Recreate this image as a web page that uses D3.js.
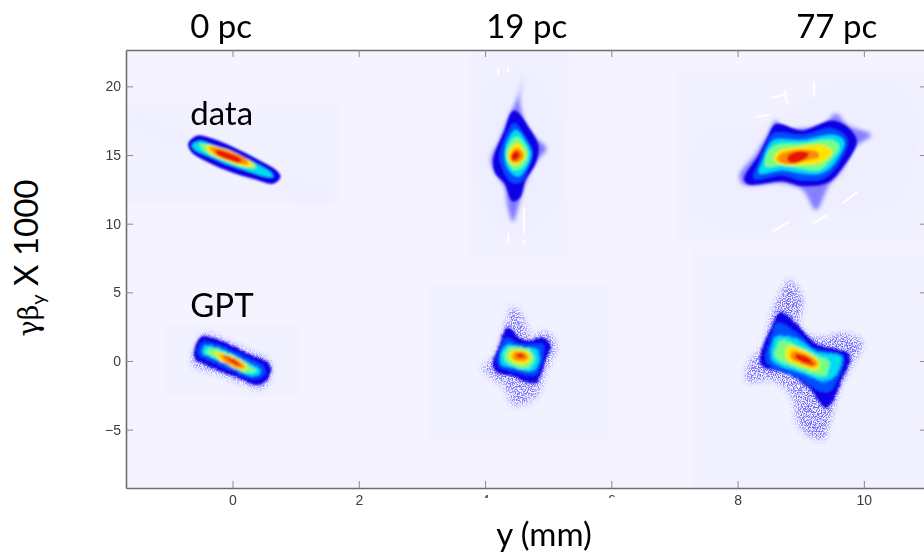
<!DOCTYPE html>
<html>
<head>
<meta charset="utf-8">
<style>
  html, body { margin: 0; padding: 0; background: #fff; }
  svg { display: block; }
  .tick text { font-family: "Liberation Sans", sans-serif; font-size: 14px; fill: #3c3c3c; }
  .big { font-family: Lato, "Open Sans", sans-serif; font-size: 33px; fill: #000; }
</style>
</head>
<body>
<svg id="chart" width="924" height="555"></svg>
<script src="https://cdn.jsdelivr.net/npm/d3@7"></script>
<script>
// axes (y in mm, gamma beta_y x 1000)
const xDomain = [-1.687, 11];
const yDomain = [-9.25, 22.65];
const xTicks = [0, 2, 4, 6, 8, 10];
const yTicks = [-5, 0, 5, 10, 15, 20];
const columnLabels = [["0 pc", -0.18], ["19 pc", 4.66], ["77 pc", 9.57]];
const rowLabels = [["data", -0.67, 17.19], ["GPT", -0.67, 3.2]];

// faint rectangles behind each image: x0, x1, y0, y1
const patches = [
  [-1.67, 1.68, 11.4, 18.8],
  [3.73, 5.3, 7.6, 22.6],
  [7.04, 11, 8.8, 21.2],
  [-1.09, 1.1, -2.6, 2.6],
  [3.07, 5.96, -5.8, 5.6],
  [7.3, 11, -9.25, 8.1]
];

// contours, outside to inside: halo, fringe, dark, blue, cyan, green, yellow, orange, red
const data0 = [
  [[-1.65,18.03],[-1.05,17.18],[-0.52,16.09],[0.79,13.67],[1.64,12.21],[1.27,11.48],[0.53,12.69],[-0.73,15.36],[-1.63,17.3]],
  null,
  [[-0.68,15.85],[-0.55,16.33],[-0.36,16.17],[0.01,15.49],[0.43,14.51],[0.69,13.79],[0.74,13.42],[0.64,12.99],[0.37,13.3],[0.01,13.79],[-0.36,14.51],[-0.63,15.24]],
  null,
  [[-0.64,15.73],[-0.52,16.02],[-0.31,15.73],[0.01,15.12],[0.37,14.39],[0.61,13.71],[0.64,13.42],[0.53,13.42],[0.27,13.79],[-0.05,14.27],[-0.36,14.88],[-0.6,15.41]],
  [[-0.52,15.8],[-0.31,15.66],[0.01,15.12],[0.32,14.44],[0.37,14.03],[0.11,14.2],[-0.21,14.76],[-0.47,15.36]],
  [[-0.42,15.66],[-0.15,15.49],[0.16,14.88],[0.35,14.27],[0.22,14.15],[-0.1,14.59],[-0.36,15.12]],
  [[-0.36,15.56],[-0.1,15.32],[0.22,14.68],[0.24,14.34],[0.01,14.51],[-0.26,15]],
  [[-0.26,15.36],[-0.07,15.17],[0.14,14.68],[0.11,14.44],[-0.07,14.68],[-0.26,15.12]]
];
const data19 = [
  [[3.91,18.76],[4.33,21.43],[4.91,20.22],[5.18,16.09],[5.12,11.24],[4.44,9.05],[3.91,11.97]],
  [[4.6,20.58],[4.55,19],[4.62,17.55],[4.78,16.33],[4.97,15.49],[4.81,14.51],[4.68,13.42],[4.57,11.97],[4.44,10.15],[4.36,11.24],[4.31,12.69],[4.17,13.67],[4.09,14.64],[4.23,16.09],[4.39,17.91],[4.52,19.25]],
  [[4.46,18.16],[4.68,16.94],[4.83,15.61],[4.78,14.39],[4.62,13.18],[4.54,11.97],[4.44,11.72],[4.33,12.94],[4.17,13.79],[4.15,14.76],[4.31,16.58]],
  [[4.46,17.31],[4.62,16.46],[4.75,15.24],[4.68,14.03],[4.57,13.06],[4.41,13.06],[4.28,14.03],[4.23,14.88],[4.33,16.33]],
  [[4.49,16.82],[4.65,15.97],[4.73,15.12],[4.65,14.03],[4.52,13.42],[4.36,14.03],[4.31,15],[4.36,16.09]],
  [[4.5,16.33],[4.65,15.61],[4.68,14.88],[4.6,14.15],[4.46,13.91],[4.36,14.51],[4.34,15.36]],
  [[4.5,15.85],[4.62,15.36],[4.64,14.88],[4.54,14.39],[4.44,14.27],[4.36,14.76],[4.39,15.36]],
  [[4.5,15.49],[4.6,15.17],[4.6,14.76],[4.49,14.44],[4.41,14.64],[4.41,15.07]],
  [[4.49,15.32],[4.55,15.07],[4.53,14.76],[4.44,14.59],[4.41,14.88]]
];
const data77 = [
  [[7.45,16.94],[8.34,17.06],[9.71,20.46],[10.66,19.73],[10.87,16.09],[10.45,11.24],[9.29,10.75],[8.34,9.3],[7.23,11]],
  [[8.61,17.55],[8.69,16.94],[9.03,16.94],[9.35,17.18],[9.56,18.03],[9.74,17.18],[10.11,16.46],[9.87,15.61],[9.64,13.79],[9.45,12.82],[9.24,11],[9.03,12.45],[8.71,12.94],[8.29,12.82],[8.08,12.89],[8.03,13.54],[8.29,15.12],[8.47,16.46]],
  [[8.61,17.18],[9.03,16.7],[9.5,17.43],[9.77,16.82],[9.87,15.97],[9.61,13.91],[9.42,13.06],[9.03,12.82],[8.71,13.18],[8.18,12.94],[8.12,13.3],[8.34,14.88],[8.5,16.33]],
  [[8.58,16.58],[9.03,16.46],[9.5,16.94],[9.74,16.09],[9.56,14.15],[9.35,13.3],[9,13.18],[8.71,13.54],[8.26,13.3],[8.34,14.51],[8.47,15.85]],
  [[8.58,16.09],[9.03,16.09],[9.53,16.46],[9.69,15.97],[9.53,14.39],[9.32,13.67],[9,13.67],[8.71,13.91],[8.34,13.67],[8.4,14.64],[8.47,15.49]],
  [[8.61,15.73],[9.03,15.85],[9.5,16.09],[9.61,15.61],[9.45,14.51],[9.29,13.91],[8.98,14.03],[8.71,14.27],[8.45,14.15],[8.47,15.12]],
  [[8.63,15.24],[8.98,15.61],[9.35,15.73],[9.5,15.24],[9.35,14.51],[9.03,14.27],[8.71,14.27],[8.58,14.64]],
  [[8.66,15],[8.92,15.36],[9.26,15.24],[9.29,14.88],[9.08,14.59],[8.77,14.34],[8.63,14.64]],
  [[8.79,14.88],[8.98,15.29],[9.13,15.12],[9.08,14.76],[8.92,14.39],[8.81,14.51]]
];
const gpt0 = [
  null,
  [[-0.42,2.03],[-0.15,1.55],[0.27,0.7],[0.61,-0.15],[0.48,-1.96],[0.16,-1.6],[-0.26,-0.87],[-0.63,-0.27],[-0.57,1.07]],
  [[-0.47,1.74],[-0.15,1.31],[0.24,0.46],[0.58,-0.34],[0.53,-1.36],[0.37,-1.65],[0.11,-1.16],[-0.26,-0.51],[-0.58,0.22],[-0.57,1.07]],
  [[-0.44,1.36],[-0.15,1.02],[0.22,0.22],[0.51,-0.51],[0.48,-1.11],[0.35,-1.31],[0.08,-0.87],[-0.26,-0.19],[-0.53,0.46],[-0.53,1.02]],
  [[-0.42,1.11],[-0.15,0.82],[0.19,0.02],[0.43,-0.63],[0.42,-0.99],[0.29,-1.07],[0.06,-0.58],[-0.26,0.1],[-0.48,0.63]],
  [[-0.36,0.94],[-0.1,0.58],[0.16,-0.02],[0.37,-0.75],[0.22,-0.87],[0.01,-0.51],[-0.25,0.17],[-0.42,0.58]],
  [[-0.28,0.63],[-0.05,0.41],[0.22,-0.34],[0.19,-0.68],[0.01,-0.44],[-0.2,0.05]],
  [[-0.2,0.46],[0.01,0.22],[0.19,-0.39],[0.11,-0.51],[-0.07,-0.19]],
  [[-0.12,0.34],[0.03,0.1],[0.14,-0.34],[0.01,-0.19]]
];
const gpt19 = [
  null,
  [[4.44,3.96],[4.62,2.99],[4.73,1.77],[4.97,2.14],[5.12,1.17],[4.97,-0.66],[4.78,-2.72],[4.44,-3.2],[4.33,-1.99],[3.96,-0.53],[4.15,0.32],[4.33,2.74]],
  [[4.36,2.38],[4.52,1.65],[4.73,1.41],[4.91,1.65],[5.02,1.04],[4.94,0.07],[4.81,-1.5],[4.7,-1.5],[4.44,-1.02],[4.2,-0.78],[4.14,-0.17],[4.23,0.92]],
  [[4.33,1.65],[4.54,1.29],[4.75,1.17],[4.91,1.17],[4.89,-0.17],[4.78,-1.02],[4.49,-0.78],[4.23,-0.41],[4.2,0.07],[4.25,0.92]],
  [[4.36,1.17],[4.54,1],[4.81,0.85],[4.86,0.07],[4.75,-0.7],[4.49,-0.53],[4.25,-0.17],[4.27,0.8]],
  [[4.41,1],[4.7,0.8],[4.78,0.19],[4.68,-0.53],[4.44,-0.36],[4.31,0.07],[4.32,0.68]],
  [[4.44,0.8],[4.68,0.61],[4.73,0.19],[4.62,-0.22],[4.44,-0.05],[4.37,0.36]],
  [[4.46,0.63],[4.65,0.56],[4.68,0.19],[4.54,0],[4.44,0.19]],
  [[4.5,0.51],[4.62,0.44],[4.61,0.24],[4.52,0.27]]
];
const gpt77 = [
  null,
  [[8.82,5.9],[9.03,4.44],[8.98,2.5],[9.29,1.65],[9.72,2.01],[9.98,1.29],[9.82,-0.17],[9.61,-2.11],[9.45,-4.54],[9.35,-5.75],[8.98,-4.78],[8.87,-2.6],[8.55,-1.38],[8.16,-1.5],[8.18,-0.17],[8.4,1.04],[8.55,3.47],[8.71,5.17]],
  [[8.69,3.47],[8.92,2.62],[9.24,1.17],[9.72,0.56],[9.77,0.19],[9.64,-1.26],[9.5,-2.84],[9.4,-3.33],[9.13,-1.87],[8.82,-0.9],[8.4,-0.29],[8.37,0.19],[8.53,2.26]],
  [[8.63,2.74],[8.87,2.26],[9.21,0.92],[9.66,0.32],[9.61,-1.02],[9.45,-2.23],[9.27,-2.11],[8.98,-1.26],[8.58,-0.53],[8.45,0.07],[8.53,1.65]],
  [[8.61,1.77],[8.92,1.65],[9.24,0.68],[9.64,0.27],[9.56,-1.02],[9.37,-1.5],[9.03,-0.9],[8.61,-0.22],[8.53,0.32],[8.55,1.17]],
  [[8.71,1.53],[8.92,1.17],[9.29,0.32],[9.45,-0.05],[9.4,-1.02],[9.24,-1.02],[8.92,-0.46],[8.61,0.19],[8.61,1.04]],
  [[8.79,1.04],[9.03,0.8],[9.29,-0.05],[9.27,-0.66],[9.03,-0.41],[8.77,0.19]],
  [[8.87,0.68],[9.08,0.51],[9.27,-0.17],[9.21,-0.46],[9,-0.17],[8.84,0.27]],
  [[8.92,0.51],[9.1,0.32],[9.21,-0.29],[9.08,-0.17],[8.92,0.19]]
];

// white saturated streaks in the measured images: x1, y1, x2, y2
const whiteMarks = [
  [4.21,21.3,4.21,20.8],[4.36,21.4,4.36,21],[4.62,11.2,4.62,9.3],[4.37,9.3,4.37,8.6],[4.61,8.8,4.61,8.5],
  [8.53,19.13,8.79,19.49],[8.74,19.73,8.79,18.76],[9.21,20.34,9.21,19.25],[8.29,17.79,8.5,17.91],
  [8.55,9.42,8.82,10.15],[9.19,10.02,9.42,10.63],[9.66,11.48,9.9,12.33]
];

const levelColors = ["#eeeeff", "#5a50ff", "#0c00e6", "#0050ff", "#00dcf0", "#78ff80", "#ffe400", "#ff8a00", "#e81800"];
const width = 924, height = 555;
const margin = { left: 126, right: 927, top: 50, bottom: 488 };

const svg = d3.select("#chart");
const x = d3.scaleLinear().domain(xDomain).range([margin.left, margin.right]);
const y = d3.scaleLinear().domain(yDomain).range([margin.bottom, margin.top]);

const defs = svg.append("defs");
defs.append("clipPath").attr("id", "plotClip").append("rect")
    .attr("x", margin.left).attr("y", margin.top)
    .attr("width", margin.right - margin.left).attr("height", margin.bottom - margin.top);

const addBlur = (id, sd) => defs.append("filter").attr("id", id)
    .attr("x", "-30%").attr("y", "-30%").attr("width", "160%").attr("height", "160%")
  .append("feGaussianBlur").attr("stdDeviation", sd);
addBlur("soft", 1.3);
addBlur("halo", 5);
addBlur("fringe", 2);
addBlur("text", 0.35);

// grainy edges for the simulated images
const grain = defs.append("filter").attr("id", "grain")
    .attr("x", "-30%").attr("y", "-30%").attr("width", "160%").attr("height", "160%");
grain.append("feTurbulence").attr("type", "fractalNoise").attr("baseFrequency", 0.7)
    .attr("numOctaves", 2).attr("seed", 4).attr("result", "n");
grain.append("feDisplacementMap").attr("in", "SourceGraphic").attr("in2", "n")
    .attr("scale", 5).attr("xChannelSelector", "R").attr("yChannelSelector", "G").attr("result", "d");
grain.append("feGaussianBlur").attr("in", "d").attr("stdDeviation", 0.8);

// speckled low-density tails of the simulated images
const speckle = defs.append("filter").attr("id", "speckle")
    .attr("x", "-30%").attr("y", "-30%").attr("width", "160%").attr("height", "160%");
speckle.append("feGaussianBlur").attr("in", "SourceGraphic").attr("stdDeviation", 3).attr("result", "b");
speckle.append("feTurbulence").attr("type", "fractalNoise").attr("baseFrequency", 0.8)
    .attr("numOctaves", 2).attr("seed", 9);
speckle.append("feColorMatrix").attr("type", "matrix")
    .attr("values", "0 0 0 0 0  0 0 0 0 0  0 0 0 0 0  6 0 0 0 -2.6").attr("result", "s");
speckle.append("feComposite").attr("in", "b").attr("in2", "s").attr("operator", "in").attr("result", "c");
speckle.append("feGaussianBlur").attr("in", "c").attr("stdDeviation", 0.45);

svg.append("rect").attr("width", width).attr("height", height).attr("fill", "#fff");

const plot = svg.append("g").attr("clip-path", "url(#plotClip)");
plot.append("rect")
    .attr("x", margin.left).attr("y", margin.top)
    .attr("width", margin.right - margin.left).attr("height", margin.bottom - margin.top)
    .attr("fill", "#f5f3ff");

plot.selectAll("rect.patch")
  .data(patches)
  .join("rect")
    .attr("class", "patch")
    .attr("x", d => x(d[0]))
    .attr("width", d => x(d[1]) - x(d[0]))
    .attr("y", d => y(d[3]))
    .attr("height", d => y(d[2]) - y(d[3]))
    .attr("fill", "#f1f1ff");

const contour = d3.line().x(d => x(d[0])).y(d => y(d[1])).curve(d3.curveCatmullRomClosed.alpha(0.5));

const drawImage = (levels, filter, fringeOpacity) => {
  const g = plot.append("g");
  if (levels[0]) {
    g.append("path").attr("d", contour(levels[0])).attr("fill", levelColors[0]).attr("filter", "url(#halo)");
  }
  if (levels[1]) {
    g.append("path").attr("d", contour(levels[1])).attr("fill", levelColors[1])
        .attr("opacity", fringeOpacity).attr("filter", filter === "grain" ? "url(#speckle)" : "url(#fringe)");
  }
  g.append("g").attr("filter", `url(#${filter})`)
    .selectAll("path")
    .data(levels.map((d, i) => ({ d, i })).filter(l => l.d && l.i > 1))
    .join("path")
      .attr("d", l => contour(l.d))
      .attr("fill", l => levelColors[l.i])
      .attr("stroke", l => l.i === 2 ? levelColors[2] : "none")
      .attr("stroke-width", 2.5);
};

drawImage(data0, "soft", 0.7);
drawImage(data19, "soft", 0.75);
drawImage(data77, "soft", 0.7);

plot.append("g").attr("filter", "url(#text)")
    .selectAll("line")
    .data(whiteMarks)
    .join("line")
      .attr("x1", d => x(d[0])).attr("y1", d => y(d[1]))
      .attr("x2", d => x(d[2])).attr("y2", d => y(d[3]))
      .attr("stroke", "#fff").attr("stroke-width", 2);

drawImage(gpt0, "grain", 0.8);
drawImage(gpt19, "grain", 0.8);
drawImage(gpt77, "grain", 0.85);

// axes, with inward ticks on all four sides
const axisGroup = svg.append("g").attr("filter", "url(#text)");
const styleAxis = g => {
  g.selectAll(".domain").attr("stroke", "#6e6e6e").attr("stroke-width", 1.6);
  g.selectAll(".tick line").attr("stroke", "#8a8a8a");
};
axisGroup.append("g").attr("transform", `translate(0,${margin.bottom})`)
    .call(d3.axisBottom(x).tickValues(xTicks).tickSizeOuter(0).tickSizeInner(-7).tickPadding(7))
    .call(styleAxis);
axisGroup.append("g").attr("transform", `translate(0,${margin.top})`)
    .call(d3.axisTop(x).tickValues(xTicks).tickSizeOuter(0).tickSizeInner(-7).tickFormat(""))
    .call(styleAxis);
axisGroup.append("g").attr("transform", `translate(${margin.left},0)`)
    .call(d3.axisLeft(y).tickValues(yTicks).tickSizeOuter(0).tickSizeInner(-7).tickPadding(5))
    .call(styleAxis);
axisGroup.append("g").attr("transform", `translate(${margin.right},0)`)
    .call(d3.axisRight(y).tickValues(yTicks).tickSizeOuter(0).tickSizeInner(-7).tickFormat(""))
    .call(styleAxis);

// the slide's text box covers the lower part of the 4 and 6 labels
svg.append("rect").attr("x", 400).attr("y", 498).attr("width", 240).attr("height", 50).attr("fill", "#fff");

svg.selectAll("text.col")
  .data(columnLabels)
  .join("text")
    .attr("class", "col big")
    .attr("x", d => x(d[1]))
    .attr("y", 38)
    .attr("text-anchor", "middle")
    .text(d => d[0]);

svg.selectAll("text.row")
  .data(rowLabels)
  .join("text")
    .attr("class", "row big")
    .attr("x", d => x(d[1]))
    .attr("y", d => y(d[2]))
    .text(d => d[0]);

svg.append("text").attr("class", "big")
    .attr("x", 544).attr("y", 546).attr("text-anchor", "middle")
    .text("y (mm)");

const yTitle = svg.append("text").attr("class", "big")
    .attr("transform", "translate(38,258) rotate(-90)")
    .attr("text-anchor", "middle");
yTitle.append("tspan").style("font-family", "'DejaVu Serif', serif").style("font-size", "27px").text("γβ");
yTitle.append("tspan").attr("dy", 7).style("font-size", "20px").text("y");
yTitle.append("tspan").attr("dy", -7).text(" X 1000");
</script>
</body>
</html>
